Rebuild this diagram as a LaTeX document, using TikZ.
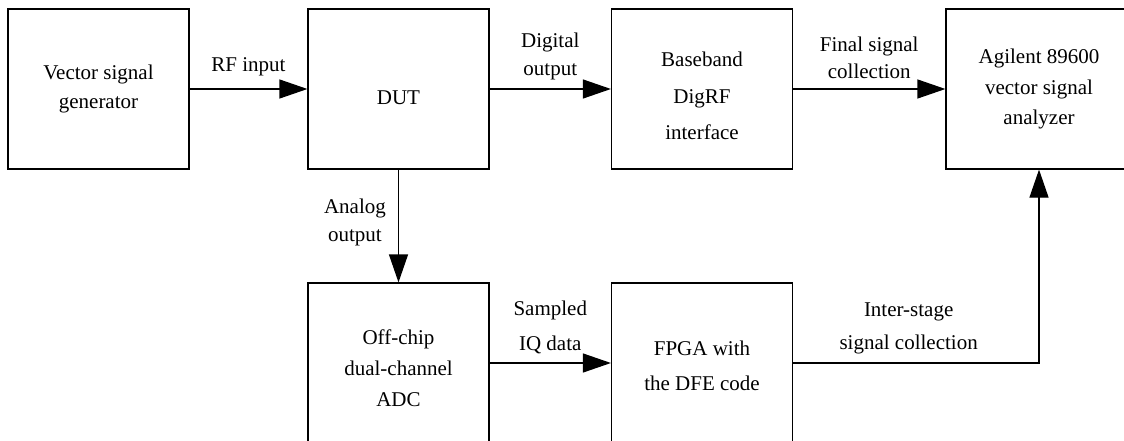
\documentclass[tikz,border=0pt]{standalone}
\usepackage{fontspec}
\setmainfont{Liberation Serif}
\usetikzlibrary{arrows.meta}

\tikzset{
  block/.style={draw, line width=1.2pt, minimum width=181pt, minimum height=160pt, align=center, inner sep=0pt},
  sig/.style={line width=1.2pt, -{Triangle[length=28pt,width=19pt]}},
  tag/.style={align=center, inner sep=0pt}
}

\begin{document}
\begin{tikzpicture}[x=1pt,y=-1pt,font=\fontsize{21}{28}\selectfont]

\clip (0,0) rectangle (1124,441);

% Draw the blocks
\node[block] (vsg) at (98.5,89) {Vector signal\\[1pt]generator};
\node[block, text height=32pt] (dut) at (398.5,89) {DUT};
\node[block] (digrf) at (702,89) {\rule{0pt}{29pt}Baseband\\[8.5pt]DigRF\\[8.5pt]interface};
\node[block, minimum width=186pt] (vsa) at (1039,89) {Agilent 89600\\[2.5pt]vector signal\\[2.5pt]analyzer};
\node[block] (adc) at (398.5,363) {\rule{0pt}{24.5pt}Off-chip\\[3pt]dual-channel\\[3pt]ADC};
\node[block] (fpga) at (702,363) {\rule{0pt}{20pt}FPGA with\\[7pt]the DFE code};

% Draw and label the signals
\draw[sig] (vsg) -- node[tag, above=12pt] {RF input} (dut);
\draw[sig] (dut) -- node[tag, above=8pt] {Digital\\output} (digrf);
\draw[sig] (digrf) -- node[tag, above=10pt] {Final signal\\[-1pt]collection} (vsa);
\draw[sig] (dut) -- node[tag, left=12pt, yshift=4pt] {Analog\\output} (adc);
\draw[sig] (adc) -- node[tag, above=8pt] {Sampled\\[7pt]IQ data} (fpga);
\draw[sig] (fpga) -| node[tag, above=8pt, pos=0.235] {Inter-stage\\[5pt]signal collection} (vsa);

\end{tikzpicture}
\end{document}
